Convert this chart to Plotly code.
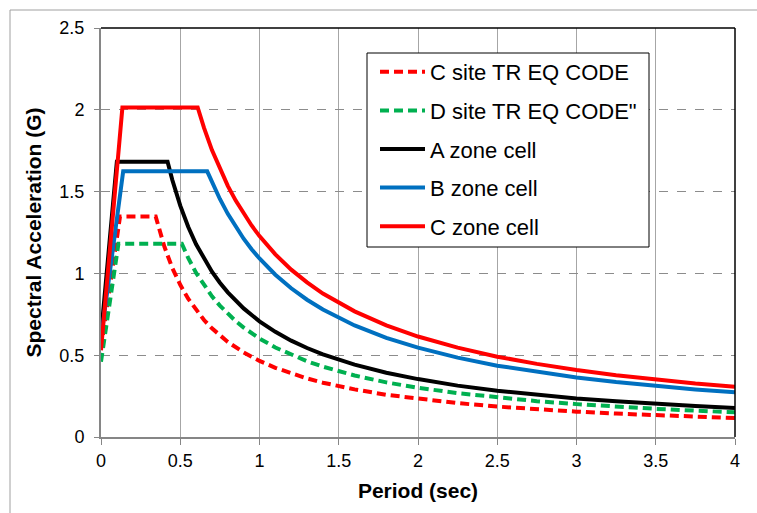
import plotly.graph_objects as go

# ---- data ----
names = ["C site TR EQ CODE", "D site TR EQ CODE\"", "A zone cell", "B zone cell", "C zone cell"]

c_site_T = [0, 0.12, 0.345, 0.37, 0.4, 0.45, 0.5, 0.55, 0.6, 0.65, 0.7, 0.75, 0.8, 0.9, 1.0, 1.1, 1.2, 1.3, 1.4, 1.6, 1.8, 2.0, 2.25, 2.5, 2.75, 3.0, 3.25, 3.5, 3.75, 4.0]
c_site_SA = [0.54, 1.348, 1.348, 1.257, 1.163, 1.033, 0.930, 0.845, 0.775, 0.715, 0.664, 0.620, 0.581, 0.517, 0.465, 0.423, 0.388, 0.358, 0.332, 0.291, 0.258, 0.233, 0.207, 0.186, 0.169, 0.155, 0.143, 0.133, 0.124, 0.116]

d_site_T = [0, 0.11, 0.51, 0.55, 0.6, 0.65, 0.7, 0.75, 0.8, 0.85, 0.9, 1.0, 1.1, 1.2, 1.3, 1.4, 1.6, 1.8, 2.0, 2.25, 2.5, 2.75, 3.0, 3.25, 3.5, 3.75, 4.0]
d_site_SA = [0.46, 1.181, 1.181, 1.095, 1.003, 0.926, 0.860, 0.803, 0.753, 0.708, 0.669, 0.602, 0.547, 0.502, 0.463, 0.430, 0.376, 0.334, 0.301, 0.268, 0.241, 0.219, 0.201, 0.185, 0.172, 0.161, 0.151]

a_zone_T = [0, 0.10, 0.42, 0.45, 0.5, 0.55, 0.6, 0.65, 0.7, 0.75, 0.8, 0.9, 1.0, 1.1, 1.2, 1.3, 1.4, 1.6, 1.8, 2.0, 2.25, 2.5, 2.75, 3.0, 3.25, 3.5, 3.75, 4.0]
a_zone_SA = [0.62, 1.683, 1.683, 1.571, 1.414, 1.285, 1.178, 1.088, 1.010, 0.943, 0.884, 0.786, 0.707, 0.643, 0.589, 0.544, 0.505, 0.442, 0.393, 0.354, 0.314, 0.283, 0.257, 0.236, 0.218, 0.202, 0.189, 0.177]

b_zone_T = [0, 0.14, 0.67, 0.7, 0.75, 0.8, 0.85, 0.9, 0.95, 1.0, 1.1, 1.2, 1.3, 1.4, 1.6, 1.8, 2.0, 2.25, 2.5, 2.75, 3.0, 3.25, 3.5, 3.75, 4.0]
b_zone_SA = [0.60, 1.624, 1.624, 1.559, 1.455, 1.364, 1.284, 1.212, 1.148, 1.091, 0.992, 0.909, 0.839, 0.779, 0.682, 0.606, 0.546, 0.485, 0.436, 0.397, 0.364, 0.336, 0.312, 0.291, 0.273]

c_zone_T = [0, 0.135, 0.61, 0.65, 0.7, 0.75, 0.8, 0.85, 0.9, 0.95, 1.0, 1.1, 1.2, 1.3, 1.4, 1.6, 1.8, 2.0, 2.25, 2.5, 2.75, 3.0, 3.25, 3.5, 3.75, 4.0]
c_zone_SA = [0.53, 2.014, 2.014, 1.889, 1.754, 1.637, 1.535, 1.445, 1.364, 1.293, 1.228, 1.116, 1.023, 0.945, 0.877, 0.768, 0.682, 0.614, 0.546, 0.491, 0.447, 0.409, 0.378, 0.351, 0.327, 0.307]

x_ticks = [0, 0.5, 1, 1.5, 2, 2.5, 3, 3.5, 4]
y_ticks = [0, 0.5, 1, 1.5, 2, 2.5]

series = [
    (c_site_T, c_site_SA, "#ff0000", "9px,5px"),
    (d_site_T, d_site_SA, "#00b050", "9px,5px"),
    (a_zone_T, a_zone_SA, "#000000", "solid"),
    (b_zone_T, b_zone_SA, "#0070c0", "solid"),
    (c_zone_T, c_zone_SA, "#ff0000", "solid"),
]

FONT = "Liberation Sans, Arial, sans-serif"

fig = go.Figure()
for i, (t, sa, col, dash) in enumerate(series):
    fig.add_trace(go.Scatter(
        x=t, y=sa, mode="lines", name=names[i], legendgroup=str(i),
        line=dict(color=col, width=4, dash=dash),
    ))

# legend frame (pixel box 367..649 x 53..247 mapped to paper coords)
W, L, T_, H = 634.0, 101.0, 28.0, 409.0
def px(x):
    return (x - L) / W
def py(y):
    return (T_ + H - y) / H

fig.update_layout(
    width=757, height=513,
    margin=dict(l=101, r=22, t=28, b=76),
    paper_bgcolor="white", plot_bgcolor="white",
    font=dict(family=FONT, color="black", size=18),
    showlegend=True,
    legend=dict(
        x=px(375), y=py(51), xanchor="left", yanchor="top",
        bgcolor="rgba(255,255,255,0)", borderwidth=0,
        font=dict(family=FONT, size=22, color="black"),
        tracegroupgap=7, itemwidth=45,
    ),
    xaxis=dict(
        range=[0, 4], tickvals=x_ticks, ticktext=[f"{v:g}" for v in x_ticks],
        showgrid=True, gridcolor="#a6a6a6", gridwidth=1,
        showline=True, linecolor="#868686", linewidth=2,
        ticks="outside", ticklen=6, tickcolor="#868686", tickwidth=1,
        zeroline=False, tickfont=dict(size=18),
        title=dict(text="<b>Period (sec)</b>", font=dict(size=21), standoff=14),
    ),
    yaxis=dict(
        range=[0, 2.5], tickvals=y_ticks, ticktext=[f"{v:g}" for v in y_ticks],
        showgrid=True, gridcolor="#8c8c8c", gridwidth=1, griddash="dash",
        showline=True, linecolor="#868686", linewidth=2,
        ticks="outside", ticklen=5, tickcolor="#868686", tickwidth=1,
        zeroline=False, tickfont=dict(size=18), ticklabelstandoff=6,
        title=dict(text="<b>Spectral Acceleration (G)</b>", font=dict(size=21), standoff=12),
    ),
    shapes=[
        dict(type="line", xref="x domain", yref="y domain", x0=0, x1=1, y0=1, y1=1,
             line=dict(color="black", width=1.5), layer="above"),
        dict(type="line", xref="x domain", yref="y domain", x0=1, x1=1, y0=0, y1=1,
             line=dict(color="black", width=1.5), layer="above"),
        # legend frame
        dict(type="rect", xref="paper", yref="paper", x0=px(367), x1=px(649), y0=py(247), y1=py(53),
             fillcolor="white", line=dict(color="black", width=1), layer="above"),
        # outer chart border (partially visible)
        dict(type="line", xref="paper", yref="paper", x0=px(10), x1=px(770), y0=py(10), y1=py(10),
             line=dict(color="#a0a0a0", width=1)),
        dict(type="line", xref="paper", yref="paper", x0=px(10), x1=px(10), y0=py(10), y1=py(530),
             line=dict(color="#a0a0a0", width=1)),
    ],
)

fig.write_html("out.html")
